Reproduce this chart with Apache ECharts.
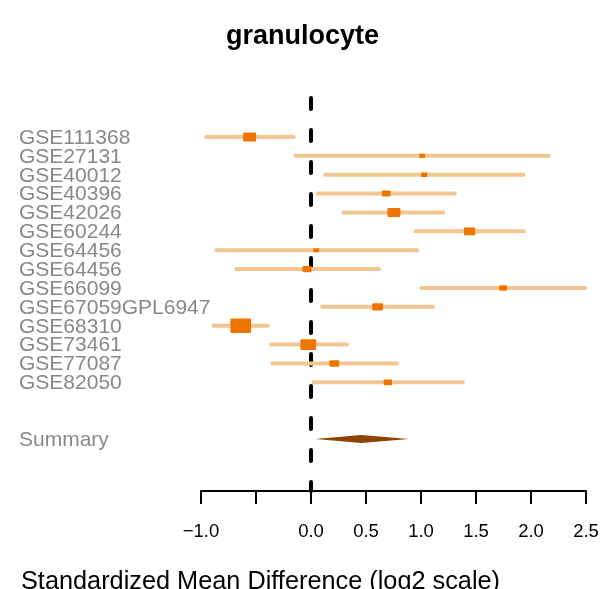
<!DOCTYPE html>
<html>
<head>
<meta charset="utf-8">
<script src="https://cdn.jsdelivr.net/npm/echarts@6/dist/echarts.min.js"></script>
<style>
html,body{margin:0;padding:0;background:#fff;}
#chart{width:605px;height:589px;}
</style>
</head>
<body>
<div id="chart"></div>
<script>
// ---- data ----
const studies = ['GSE111368','GSE27131','GSE40012','GSE40396','GSE42026','GSE60244','GSE64456','GSE64456','GSE66099','GSE67059GPL6947','GSE68310','GSE73461','GSE77087','GSE82050'];
const estimate = [-0.558, 1.011, 1.029, 0.684, 0.754, 1.441, 0.048, -0.036, 1.747, 0.605, -0.639, -0.025, 0.212, 0.699];
const lower    = [-0.951, -0.143, 0.130, 0.063, 0.296, 0.950, -0.860, -0.678, 1.002, 0.103, -0.885, -0.363, -0.351, 0.024];
const upper    = [-0.158, 2.162, 1.931, 1.308, 1.204, 1.935, 0.963, 0.618, 2.494, 1.108, -0.394, 0.327, 0.781, 1.381];
const weight   = [1.30, 0.60, 0.62, 0.87, 1.30, 1.13, 0.60, 0.90, 0.77, 1.07, 2.07, 1.57, 0.97, 0.83];
const summaryLabel = 'Summary';
const summaryEst = 0.457;
const summaryLower = 0.039;
const summaryUpper = 0.890;
const xTickValues = [-1.0, -0.5, 0.0, 0.5, 1.0, 1.5, 2.0, 2.5];
const xTickLabels = ['\u22121.0', '', '0.0', '0.5', '1.0', '1.5', '2.0', '2.5'];
const titleText = 'granulocyte';
const xTitle = 'Standardized Mean Difference (log2 scale)';

// ---- layout ----
const summaryRow = studies.length + 3;
const yTop = -1.172, yBottom = 19.755;
const FONT = '"Liberation Sans", Arial, Helvetica, sans-serif';

const chart = echarts.init(document.getElementById('chart'), null, {renderer: 'canvas'});

const studyData = studies.map((s, i) => [lower[i], upper[i], estimate[i], i + 1, weight[i]]);

const option = {
  backgroundColor: '#ffffff',
  animation: false,
  title: [
    {text: titleText, left: 'center', top: 23, padding: 0,
     textStyle: {fontFamily: FONT, fontSize: 27, fontWeight: 'bold', color: '#000'}},
    {text: xTitle, left: 21, top: 570, padding: 0,
     textStyle: {fontFamily: FONT, fontSize: 25.3, fontWeight: 'normal', color: '#000'}}
  ],
  grid: {left: 201, right: 19, top: 96, bottom: 98, containLabel: false},
  xAxis: {
    type: 'value', min: -1, max: 2.5, interval: 0.5,
    position: 'bottom',
    axisLine: {show: true, onZero: false, lineStyle: {color: '#000', width: 2}},
    axisTick: {show: true, inside: false, length: 13, lineStyle: {color: '#000', width: 2}},
    splitLine: {show: false},
    axisLabel: {
      margin: 31, color: '#000', fontFamily: FONT, fontSize: 18.5,
      formatter: function (v) {
        const idx = xTickValues.findIndex(t => Math.abs(t - v) < 1e-9);
        return idx >= 0 ? xTickLabels[idx] : '';
      }
    }
  },
  yAxis: {
    type: 'value', inverse: true, min: yTop, max: yBottom, show: false
  },
  series: [
    {
      type: 'custom',
      silent: true,
      data: [[0]],
      renderItem: function (params, api) {
        const p1 = api.coord([0, yTop]);
        const p2 = api.coord([0, yBottom]);
        return {
          type: 'line',
          shape: {x1: p1[0], y1: p1[1] + 2, x2: p2[0], y2: p2[1]},
          style: {stroke: '#000', lineWidth: 4, lineDash: [11, 21], lineCap: 'round'}
        };
      },
      z: 1
    },
    {
      type: 'custom',
      silent: true,
      data: studyData,
      encode: {x: [0, 1, 2], y: 3},
      renderItem: function (params, api) {
        const lo = api.value(0), hi = api.value(1), est = api.value(2), row = api.value(3), w = api.value(4);
        const p1 = api.coord([lo, row]);
        const p2 = api.coord([hi, row]);
        const c = api.coord([est, row]);
        const bw = 10 * w, bh = bw / 1.45;
        return {
          type: 'group',
          children: [
            {type: 'line', shape: {x1: p1[0], y1: p1[1], x2: p2[0], y2: p2[1]},
             style: {stroke: '#F2C591', lineWidth: 4, lineCap: 'round'}},
            {type: 'rect', shape: {x: c[0] - bw / 2, y: c[1] - bh / 2, width: bw, height: bh, r: 1},
             style: {fill: '#EE7600'}}
          ]
        };
      },
      z: 2
    },
    {
      type: 'custom',
      silent: true,
      data: [[summaryLower, summaryUpper, summaryEst, summaryRow]],
      encode: {x: [0, 1, 2], y: 3},
      renderItem: function (params, api) {
        const lo = api.coord([api.value(0), api.value(3)]);
        const hi = api.coord([api.value(1), api.value(3)]);
        const c = api.coord([api.value(2), api.value(3)]);
        return {
          type: 'polygon',
          shape: {points: [[lo[0], lo[1]], [c[0], c[1] - 4], [hi[0], hi[1]], [c[0], c[1] + 4]]},
          style: {fill: '#8B4500'}
        };
      },
      z: 2
    },
    {
      type: 'custom',
      silent: true,
      data: studies.map((s, i) => [i + 1, s]).concat([[summaryRow, summaryLabel]]),
      encode: {y: 0},
      renderItem: function (params, api) {
        const row = api.value(0);
        const label = studies.concat([summaryLabel])[params.dataIndex];
        const p = api.coord([0, row]);
        return {
          type: 'text',
          x: 19, y: p[1] + 1,
          style: {text: label, fill: '#8B8884', font: '21px ' + FONT,
                  textAlign: 'left', textVerticalAlign: 'middle'}
        };
      },
      clip: false,
      z: 3
    }
  ]
};
chart.setOption(option);
</script>
</body>
</html>
